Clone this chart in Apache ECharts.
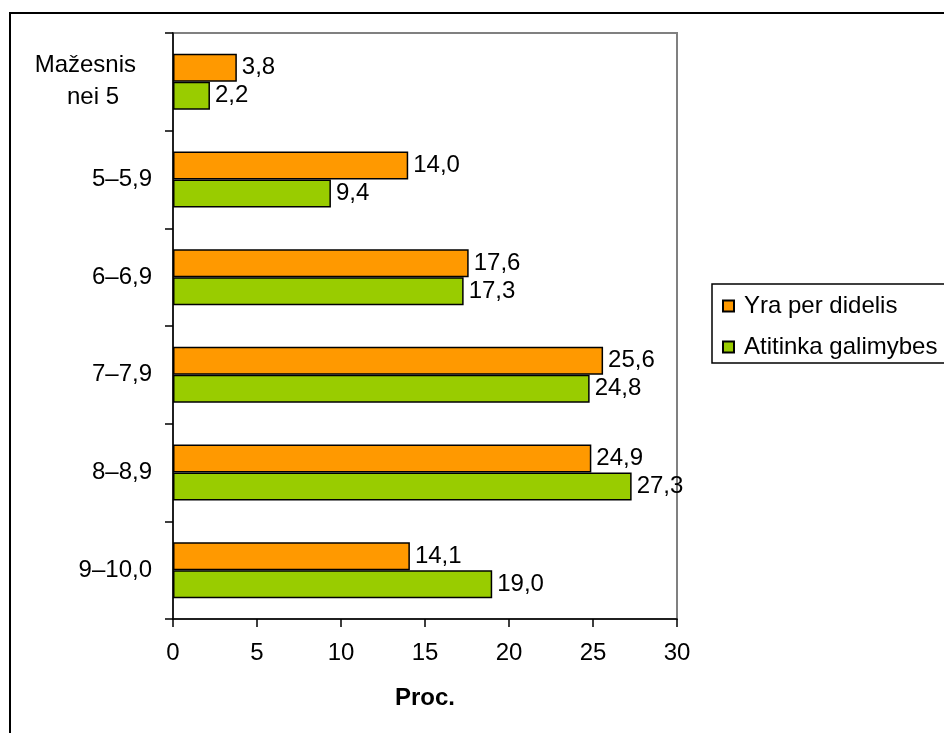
<!DOCTYPE html>
<html>
<head>
<meta charset="utf-8">
<script src="https://cdn.jsdelivr.net/npm/echarts@6/dist/echarts.min.js"></script>
<style>
  html, body { margin: 0; padding: 0; background: #fff; }
  #chart { width: 944px; height: 733px; }
</style>
</head>
<body>
<div id="chart"></div>
<script>
// Income groups (top to bottom)
const categories = ['Mažesnis nei 5', '5–5,9', '6–6,9', '7–7,9', '8–8,9', '9–10,0'];
const seriesNames = ['Yra per didelis', 'Atitinka galimybes'];
const tooLarge = [3.8, 14.0, 17.6, 25.6, 24.9, 14.1];
const matches = [2.2, 9.4, 17.3, 24.8, 27.3, 19.0];
const xTicks = { min: 0, max: 30, interval: 5 };
const xName = 'Proc.';

const FONT = '"Liberation Sans", Arial, sans-serif';
const FS = 24;

const fmt = v => v.toFixed(1).replace('.', ',');

const chart = echarts.init(document.getElementById('chart'), null, { renderer: 'canvas' });

function barSeries(name, data, color) {
  return {
    name: name,
    type: 'bar',
    data: data,
    barGap: '0%',
    barCategoryGap: '42.7%',
    itemStyle: { color: color, borderColor: '#000', borderWidth: 1.5 },
    label: {
      show: true,
      position: 'right',
      distance: 5,
      color: '#000',
      fontFamily: FONT,
      fontSize: FS,
      formatter: p => fmt(p.value)
    },
    emphasis: { disabled: true },
    animation: false
  };
}

chart.setOption({
  backgroundColor: '#fff',
  animation: false,
  textStyle: { fontFamily: FONT },
  graphic: [{
    type: 'rect',
    shape: { x: 10, y: 13, width: 1000, height: 1000 },
    style: { fill: null, stroke: '#000', lineWidth: 2 },
    silent: true,
    z: 100
  }],
  grid: {
    left: 173, right: 267, top: 33, bottom: 114,
    show: true, borderColor: '#808080', borderWidth: 2, backgroundColor: 'transparent'
  },
  legend: {
    orient: 'vertical',
    left: 712,
    top: 284,
    padding: [10, 10, 4, 10],
    itemGap: 17,
    itemWidth: 11,
    itemHeight: 11,
    icon: 'rect',
    borderColor: '#000',
    borderWidth: 1.5,
    textStyle: { fontFamily: FONT, fontSize: FS, color: '#000', padding: [0, 0, 0, 5] },
    data: seriesNames
  },
  xAxis: {
    type: 'value',
    min: xTicks.min,
    max: xTicks.max,
    interval: xTicks.interval,
    name: xName,
    nameLocation: 'middle',
    nameGap: 67,
    nameTextStyle: { fontFamily: FONT, fontSize: FS, fontWeight: 'bold', color: '#000' },
    axisLine: { show: true, lineStyle: { color: '#000', width: 1.5 } },
    axisTick: { show: true, length: 8, inside: false, lineStyle: { color: '#000', width: 1.5 } },
    axisLabel: { margin: 22, color: '#000', fontFamily: FONT, fontSize: FS },
    splitLine: { show: false }
  },
  yAxis: {
    type: 'category',
    data: categories,
    inverse: true,
    axisLine: { show: true, lineStyle: { color: '#000', width: 1.5 } },
    axisTick: { show: true, length: 8, inside: false, lineStyle: { color: '#000', width: 1.5 } },
    axisLabel: {
      margin: 21,
      color: '#000',
      fontFamily: FONT,
      fontSize: FS,
      formatter: v => v === 'Mažesnis nei 5' ? '{a|Mažesnis}\n{b|nei 5}' : v,
      rich: {
        a: { fontFamily: FONT, fontSize: FS, color: '#000', lineHeight: 32, padding: [0, 16, 0, 0] },
        b: { fontFamily: FONT, fontSize: FS, color: '#000', lineHeight: 32, padding: [0, 33, 0, 0] }
      }
    },
    splitLine: { show: false }
  },
  series: [
    barSeries(seriesNames[0], tooLarge, '#FF9900'),
    barSeries(seriesNames[1], matches, '#99CC00')
  ]
});
</script>
</body>
</html>
